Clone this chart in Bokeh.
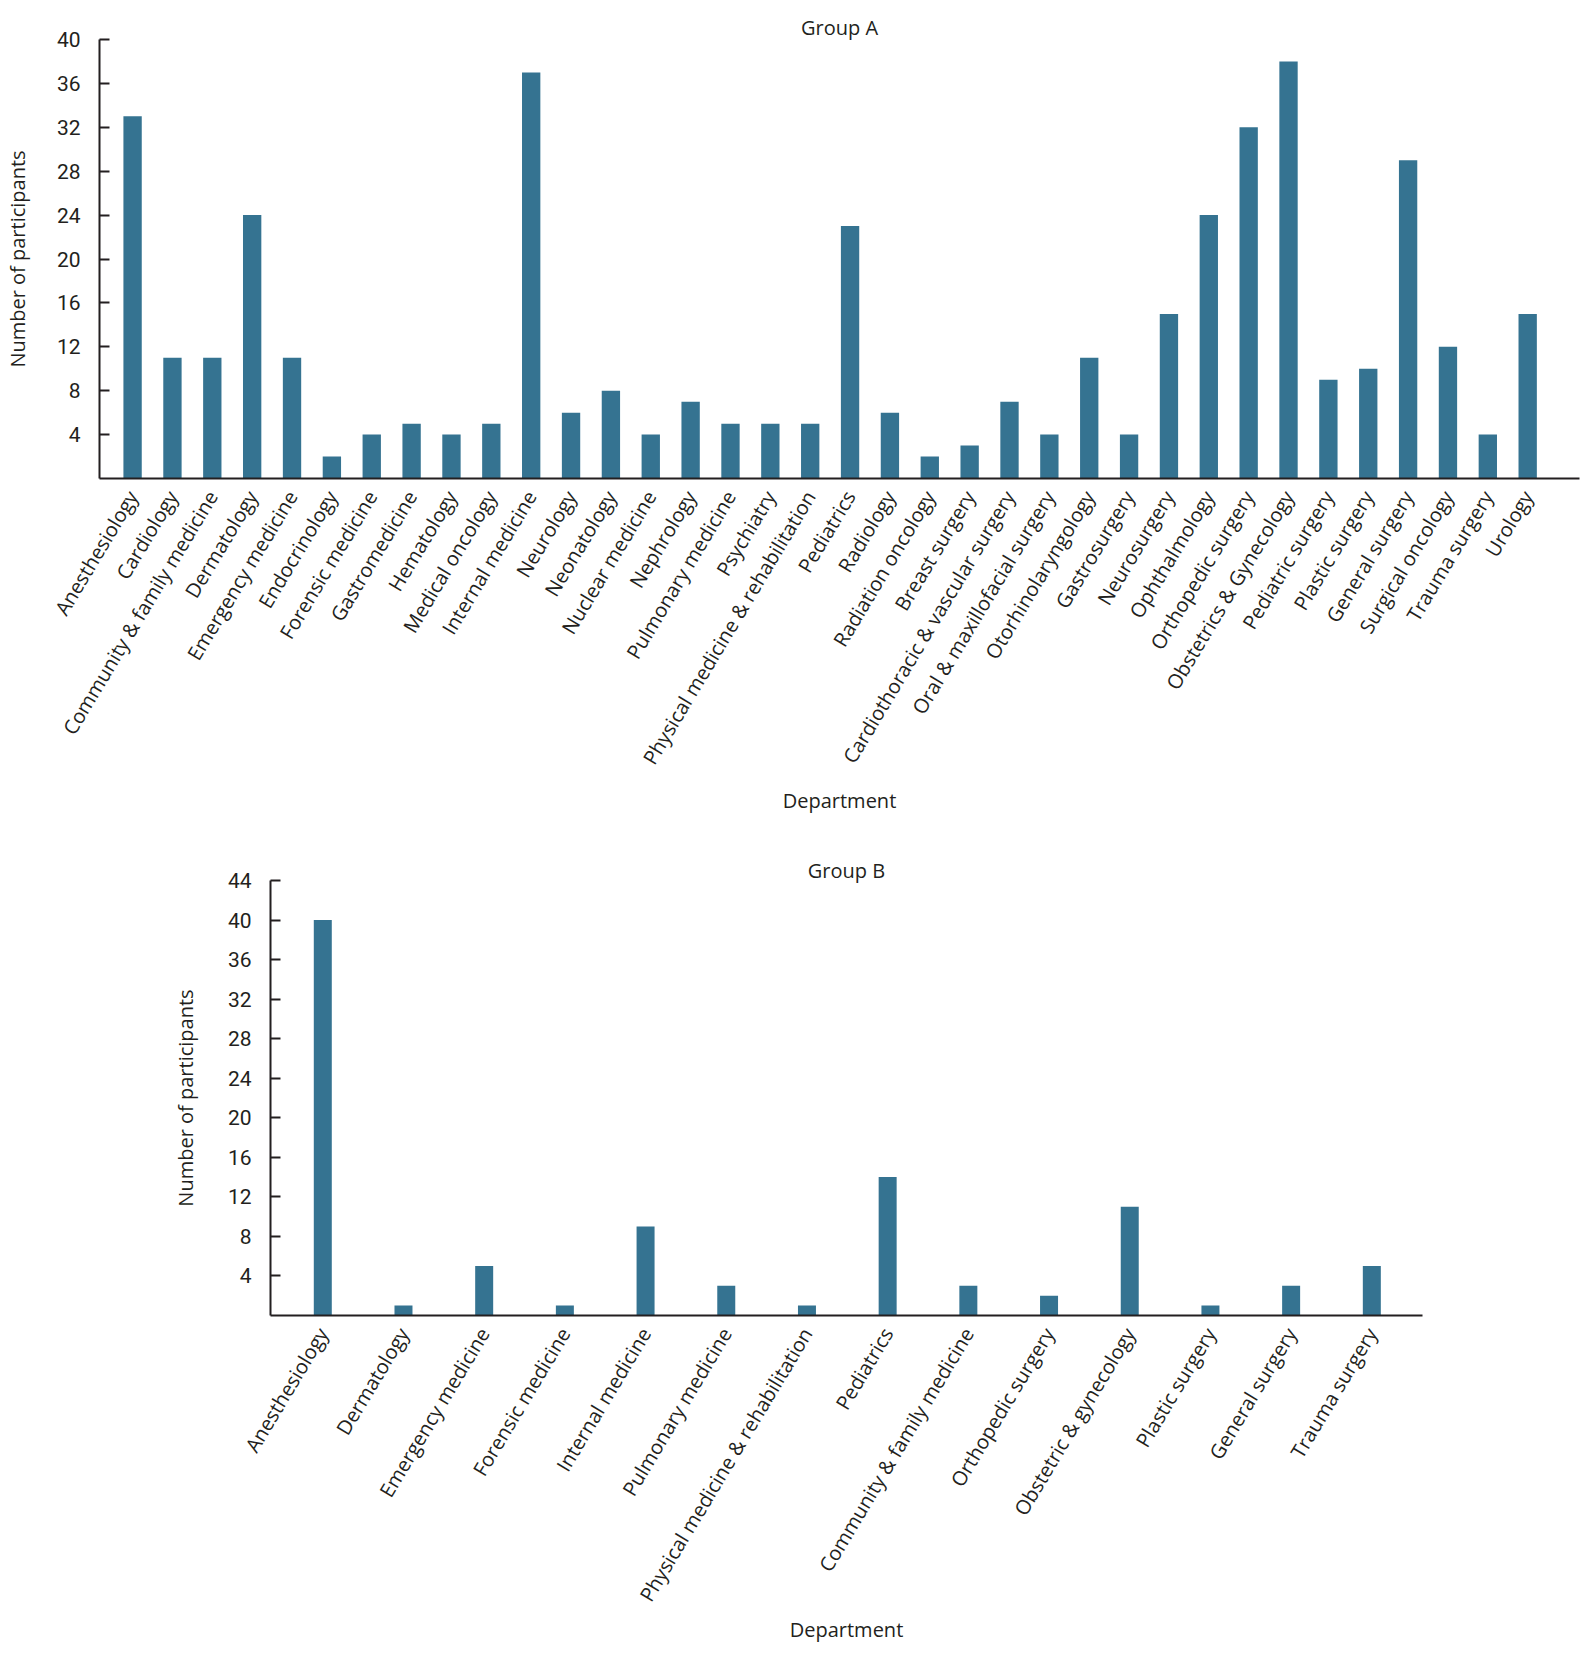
import math
from bokeh.plotting import figure
from bokeh.models import FixedTicker, Range1d, ColumnDataSource
from bokeh.embed import file_html
from bokeh.resources import INLINE

# ---------------- data ----------------
dept_a = [
    "Anesthesiology", "Cardiology", "Community & family medicine", "Dermatology",
    "Emergency medicine", "Endocrinology", "Forensic medicine", "Gastromedicine",
    "Hematology", "Medical oncology", "Internal medicine", "Neurology",
    "Neonatology", "Nuclear medicine", "Nephrology", "Pulmonary medicine",
    "Psychiatry", "Physical medicine & rehabilitation", "Pediatrics", "Radiology",
    "Radiation oncology", "Breast surgery", "Cardiothoracic & vascular surgery",
    "Oral & maxillofacial surgery", "Otorhinolaryngology", "Gastrosurgery",
    "Neurosurgery", "Ophthalmology", "Orthopedic surgery", "Obstetrics & Gynecology",
    "Pediatric surgery", "Plastic surgery", "General surgery", "Surgical oncology",
    "Trauma surgery", "Urology",
]
count_a = [33, 11, 11, 24, 11, 2, 4, 5, 4, 5, 37, 6, 8, 4, 7, 5, 5, 5, 23, 6,
           2, 3, 7, 4, 11, 4, 15, 24, 32, 38, 9, 10, 29, 12, 4, 15]

dept_b = [
    "Anesthesiology", "Dermatology", "Emergency medicine", "Forensic medicine",
    "Internal medicine", "Pulmonary medicine", "Physical medicine & rehabilitation",
    "Pediatrics", "Community & family medicine", "Orthopedic surgery",
    "Obstetric & gynecology", "Plastic surgery", "General surgery", "Trauma surgery",
]
count_b = [40, 1, 5, 1, 9, 3, 1, 14, 3, 2, 11, 1, 3, 5]

yticks_a = [4, 8, 12, 16, 20, 24, 28, 32, 36, 40]
yticks_b = [4, 8, 12, 16, 20, 24, 28, 32, 36, 40, 44]

title_a = "Group A"
title_b = "Group B"
x_title = "Department"
y_title = "Number of participants"

# ---------------- style ----------------
BAR = "#357391"
INK = "#231f20"
NUM_FONT = "Roboto"
TXT_FONT = "Open Sans"


def make(depts, counts, title, ymax, yticks, width, height, x_lo, x_hi, bar_w,
         mb_left, mb_right, mb_top, mb_bottom, title_standoff, xlab_standoff,
         ylab_standoff):
    idx = list(range(len(depts)))
    p = figure(width=width, height=height,
               x_range=Range1d(x_lo, x_hi), y_range=Range1d(0, ymax),
               output_backend="svg", toolbar_location=None, title=title,
               min_border_left=mb_left, min_border_right=mb_right,
               min_border_top=mb_top, min_border_bottom=mb_bottom)
    src = ColumnDataSource(dict(x=idx, top=counts, name=depts))
    p.vbar(x="x", top="top", bottom=0, width=bar_w, source=src,
           fill_color=BAR, line_color=None)

    p.xgrid.visible = False
    p.ygrid.visible = False
    p.outline_line_color = None
    p.background_fill_color = "white"
    p.border_fill_color = "white"

    p.title.align = "center"
    p.title.text_font = TXT_FONT
    p.title.text_font_size = "20px"
    p.title.text_font_style = "normal"
    p.title.text_color = INK
    p.title.standoff = title_standoff

    xa = p.xaxis[0]
    xa.ticker = FixedTicker(ticks=idx)
    xa.major_label_overrides = {i: d for i, d in zip(idx, depts)}
    xa.major_label_orientation = math.radians(59)
    xa.major_label_text_font = TXT_FONT
    xa.major_label_text_font_size = "20px"
    xa.major_label_text_color = INK
    xa.major_label_standoff = 14
    xa.major_tick_in = 0
    xa.major_tick_out = 0
    xa.minor_tick_in = 0
    xa.minor_tick_out = 0
    xa.axis_line_color = INK
    xa.axis_line_width = 2
    xa.axis_label = x_title
    xa.axis_label_text_font = TXT_FONT
    xa.axis_label_text_font_size = "20px"
    xa.axis_label_text_font_style = "normal"
    xa.axis_label_text_color = INK
    xa.axis_label_standoff = xlab_standoff

    ya = p.yaxis[0]
    ya.ticker = FixedTicker(ticks=yticks)
    ya.major_label_text_font = NUM_FONT
    ya.major_label_text_font_size = "21px"
    ya.major_label_text_color = INK
    ya.major_label_standoff = 19
    ya.major_tick_in = 10
    ya.major_tick_out = 0
    ya.major_tick_line_width = 2
    ya.major_tick_line_color = INK
    ya.minor_tick_in = 0
    ya.minor_tick_out = 0
    ya.axis_line_color = INK
    ya.axis_line_width = 2
    ya.axis_label = y_title
    ya.axis_label_text_font = TXT_FONT
    ya.axis_label_text_font_size = "20px"
    ya.axis_label_text_font_style = "normal"
    ya.axis_label_text_color = INK
    ya.axis_label_standoff = ylab_standoff
    return p


p1 = make(dept_a, count_a, title_a, 40, yticks_a, 1584, 840, -0.83, 36.30, 0.46,
          95, 5, 39, 362, -3, 8, 23)
p2 = make(dept_b, count_b, title_b, 44, yticks_b, 1584, 806, -0.648, 13.628, 0.223,
          270, 162, 40, 330, -6, 0, 26)

open("out.html", "w").write(file_html([p1, p2], INLINE))
